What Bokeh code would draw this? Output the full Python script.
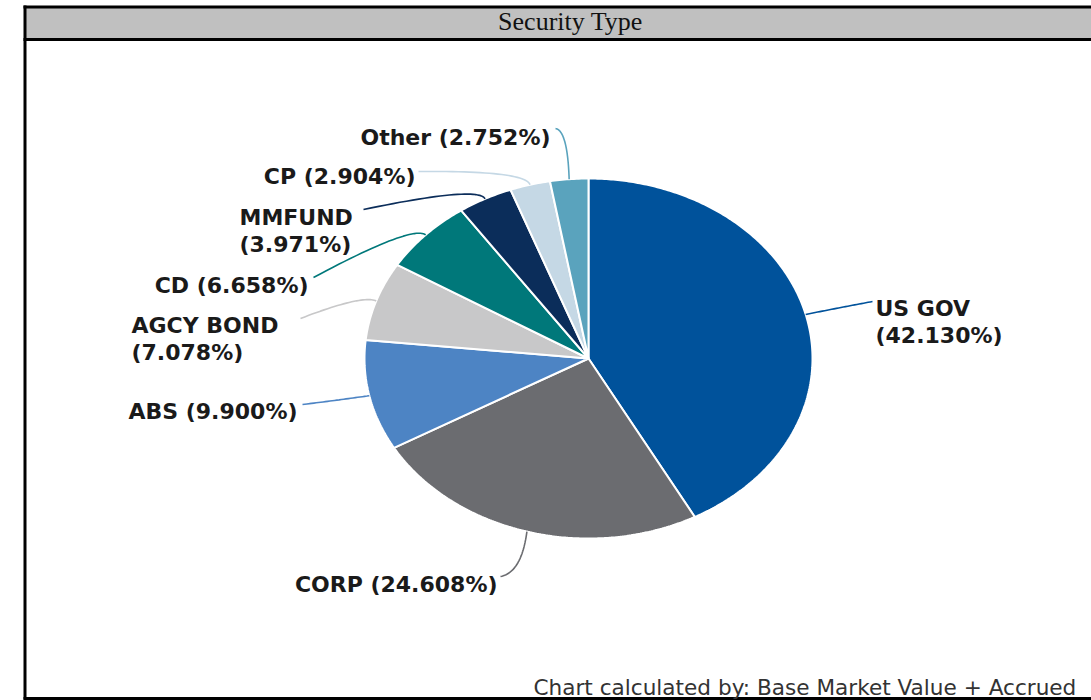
import numpy as np
from bokeh.plotting import figure
from bokeh.models import Range1d, ColumnDataSource
from bokeh.core.properties import value
from bokeh.embed import file_html
from bokeh.resources import INLINE

# ---------------- data ----------------
categories = ["US GOV", "CORP", "ABS", "AGCY BOND", "CD", "MMFUND", "CP", "Other"]
percents = [42.130, 24.608, 9.900, 7.078, 6.658, 3.971, 2.904, 2.752]
colors = ["#00529b", "#6b6c70", "#4d84c4", "#c8c8c9", "#00787a", "#0b2d5a", "#c5d8e5", "#5aa3bd"]
title_text = "Security Type"
footer_text = "Chart calculated by: Base Market Value + Accrued"

# ---------------- layout (screen pixels) ----------------
W, H = 1091, 700
CX, CY, RX, RY = 588, 358, 224, 180
LEADER_CTRL = [(840, 307), (521, 572), (335, 400), (362, 294), (412, 224), (478, 185), (525, 170), (567, 130)]
LEADER_END = [(872, 301), (500, 576), (302, 404), (300, 318), (313, 277), (363, 209), (418, 171), (555, 128)]
LABEL_X = [875, 497, 297, 131, 308, 239, 415, 550]
LABEL_ALIGN = ["left", "right", "right", "left", "right", "left", "right", "right"]
LABEL_MID = [308, 584, 411, 325, 285, 217, 176, 137]
LABEL_WRAP = [True, False, False, True, False, True, False, False]
LINE_GAP = 27


def Y(ys):
    return 700 - np.asarray(ys, dtype=float)


p = figure(width=W, height=H, output_backend="svg", toolbar_location=None,
           x_range=Range1d(0, W), y_range=Range1d(700 - H, 700),
           min_border=0)
p.axis.visible = False
p.grid.visible = False
p.outline_line_color = None
p.background_fill_color = "white"
p.border_fill_color = "white"

# ---------------- frame & title bar ----------------
p.quad(left=[25], right=[W + 5], top=Y([7])[0:1], bottom=Y([38])[0:1],
       fill_color="#c0c0c0", line_color=None)
p.multi_line(xs=[[24.5, 24.5], [23, W + 5], [23, W + 5], [23, W + 5]],
             ys=[list(Y([5, 699])), list(Y([6.5, 6.5])), list(Y([39, 39])), list(Y([698, 698]))],
             line_color="black", line_width=3)
p.text(x=[570], y=Y([21]), text=[title_text], text_align="center", text_baseline="middle",
       text_font=value("Liberation Serif"), text_font_size="26px", text_color="#111111")

# ---------------- pie ----------------
fr = np.array(percents) / sum(percents)
cum = np.concatenate([[0], np.cumsum(fr)])
xs, ys = [], []
anchors = []
for i in range(len(percents)):
    a0 = np.deg2rad(90 - 360 * cum[i])
    a1 = np.deg2rad(90 - 360 * cum[i + 1])
    n = max(4, int(abs(a1 - a0) / 0.01))
    t = np.linspace(a0, a1, n)
    px = CX + RX * np.cos(t)
    py = CY - RY * np.sin(t)
    xs.append(list(np.concatenate([[CX], px, [CX]])))
    ys.append(list(Y(np.concatenate([[CY], py, [CY]]))))
    am = (a0 + a1) / 2
    anchors.append((CX + RX * np.cos(am), CY - RY * np.sin(am)))

p.patches(xs=xs, ys=ys, fill_color=colors, line_color="white", line_width=2)

# ---------------- leaders ----------------
lx, ly = [], []
tt = np.linspace(0, 1, 30)
for i, (ax, ay) in enumerate(anchors):
    cx, cy = LEADER_CTRL[i]
    ex, ey = LEADER_END[i]
    bx = (1 - tt) ** 2 * ax + 2 * (1 - tt) * tt * cx + tt ** 2 * ex
    by = (1 - tt) ** 2 * ay + 2 * (1 - tt) * tt * cy + tt ** 2 * ey
    lx.append(list(bx))
    ly.append(list(Y(by)))
p.multi_line(xs=lx, ys=ly, line_color=colors, line_width=1.6)

# ---------------- labels ----------------
tx, ty, tl, ta = [], [], [], []
for i, cat in enumerate(categories):
    pct = "({:.3f}%)".format(percents[i])
    lines = [cat, pct] if LABEL_WRAP[i] else [cat + " " + pct]
    for k, s in enumerate(lines):
        tx.append(LABEL_X[i])
        ty.append(700 - (LABEL_MID[i] + k * LINE_GAP))
        tl.append(s)
        ta.append(LABEL_ALIGN[i])
src = ColumnDataSource(dict(x=tx, y=ty, text=tl, align=ta))
p.text(x="x", y="y", text="text", text_align="align", source=src, text_baseline="middle",
       text_font=value("DejaVu Sans"), text_font_style="bold", text_font_size="22px",
       text_color="#1a1a1a")

# ---------------- footer ----------------
p.text(x=[533], y=Y([687]), text=[footer_text], text_align="left", text_baseline="middle",
       text_font=value("DejaVu Sans"), text_font_size="21.6px", text_color="#333333")

open("out.html", "w").write(file_html(p, INLINE))
